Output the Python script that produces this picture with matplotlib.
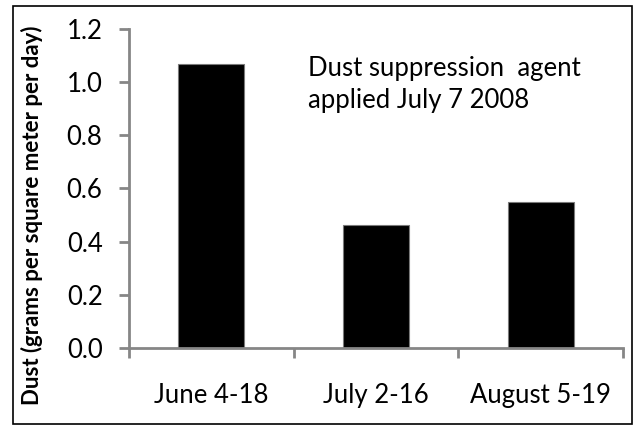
import matplotlib
matplotlib.use("Agg")
import matplotlib.pyplot as plt
from matplotlib.patches import Rectangle

periods = ["June 4-18", "July 2-16", "August 5-19"]
dust = [1.07, 0.463, 0.55]
yticks = [0.0, 0.2, 0.4, 0.6, 0.8, 1.0, 1.2]
note = "Dust suppression  agent\napplied July 7 2008"

plt.rcParams['font.family'] = ['Lato', 'DejaVu Sans']
axis_grey = "#868686"

fig = plt.figure(figsize=(6.36, 4.26), dpi=100)
ax = fig.add_axes([129/636, 1-348/426, (623-129)/636, (348-29)/426])

pos = [1, 2, 3]
ax.bar(pos, dust, width=0.40, color="black", edgecolor="#7a7a7a", linewidth=0.8)

ax.set_xlim(0.5, 3.5)
ax.set_ylim(0, 1.2)
ax.set_yticks(yticks)
ax.set_yticklabels(["%.1f" % v for v in yticks])

# ticks sit between categories, labels at centres
ax.set_xticks([0.5, 1.5, 2.5, 3.5])
ax.set_xticklabels([])
ax.set_xticks(pos, minor=True)
ax.set_xticklabels(periods, minor=True)
ax.tick_params(axis="x", which="major", direction="out", length=7, width=2, color=axis_grey)
ax.tick_params(axis="x", which="minor", length=0, pad=25, labelsize=18.5)
ax.tick_params(axis="y", direction="out", length=7, width=2, color=axis_grey, pad=12, labelsize=18.5)

for s in ["top", "right"]:
    ax.spines[s].set_visible(False)
for s in ["left", "bottom"]:
    ax.spines[s].set_color(axis_grey)
    ax.spines[s].set_linewidth(2)

ax.text(0.362, 0.915, note, transform=ax.transAxes, ha="left", va="top",
        fontsize=18.5, linespacing=1.32)

fig.text(32/636, 1-215/426, "Dust (grams per square meter per day)", rotation=90,
         ha="center", va="center", fontsize=16, fontweight="bold")

fig.patches.append(Rectangle((13/636, 1-424/426), (632-13)/636, (424-6)/426,
                             transform=fig.transFigure, fill=False,
                             edgecolor="black", linewidth=1.2))

fig.savefig("out.png", dpi=100)
